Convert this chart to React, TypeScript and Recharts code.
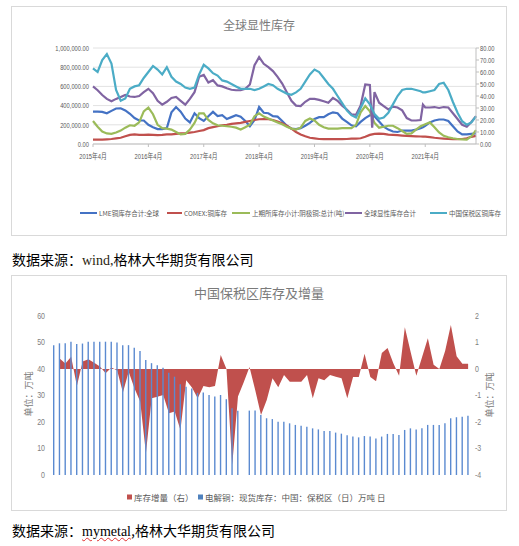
import React from 'react';
import { LineChart, ComposedChart, Line, Bar, Area, XAxis, YAxis, CartesianGrid } from 'recharts';

// ---------------- Top chart: 全球显性库存 ----------------
// x = months since 2015-04
const MONTHS = [
  0, 1, 2, 3, 4, 5, 6, 7, 8, 9,
  10, 11, 12, 13, 14, 15, 16, 17, 18, 19,
  20, 21, 22, 23, 24, 25, 26, 27, 28, 29,
  30, 31, 32, 33, 34, 35, 36, 37, 38, 39,
  40, 41, 42, 43, 44, 45, 46, 47, 48, 49,
  50, 51, 52, 53, 54, 55, 56, 57, 58, 59,
  60, 60.5,
  61, 62, 63, 64, 65, 66, 67, 68, 69, 70, 71,
  71.5,
  72, 73, 74, 75, 76, 77, 78, 79, 80, 81, 82, 83,
];

// thousand tonnes
const LME_KT = [
  337, 337, 335, 320, 345, 370, 372, 350, 315, 270,
  245, 245, 200, 175, 155, 155, 165, 330, 385, 337,
  265, 225, 320, 270, 240, 290, 335, 290, 300, 260,
  280, 300, 285, 240, 185, 250, 385, 325, 320, 290,
  285, 240, 190, 160, 155, 165, 190, 220, 260, 280,
  280, 310, 330, 320, 265, 230, 195, 185, 230, 270,
  300, 305,
  290, 235, 180, 150, 130, 125, 140, 140, 140, 150, 165,
  175,
  190, 225, 245, 255, 255, 240, 185, 130, 100, 100, 105, 110,
];

const COMEX_KT = [
  45, 45, 45, 48, 52, 58, 65, 80, 95, 100,
  95, 95, 98, 95, 92, 95, 100, 100, 105, 110,
  112, 118, 125, 135, 145, 165, 175, 185, 195, 200,
  210, 215, 220, 230, 240, 250, 258, 260, 258, 250,
  235, 215, 190, 160, 125, 100, 80, 65, 58, 52,
  50, 50, 50, 50, 50, 52, 55, 57, 60, 75,
  95, 100,
  105, 108, 105, 98, 95, 92, 88, 85, 83, 80, 78,
  77,
  76, 72, 65, 60, 56, 52, 50, 50, 52, 60, 75, 85,
];

const SHFE_KT = [
  240, 180, 130, 110, 105, 120, 140, 170, 195, 190,
  225, 340, 380, 310, 200, 165, 160, 150, 125, 100,
  105, 150, 220, 320, 320, 250, 215, 195, 190, 185,
  180, 170, 150, 175, 200, 290, 320, 285, 265, 245,
  225, 205, 180, 160, 150, 170, 240, 265, 245, 200,
  175, 160, 160, 160, 165, 165, 165, 200, 330, 395,
  340, 280,
  220, 170, 180, 190, 190, 165, 135, 105, 110, 150, 185,
  195,
  205, 225, 175, 120, 85, 70, 60, 52, 48, 45, 80, 145,
];

const TOTAL_KT = [
  600, 560, 510, 470, 445, 470, 490, 510, 495, 490,
  500, 540, 575, 530, 450, 410, 440, 480, 490, 450,
  410, 470, 540, 700, 720, 640, 665, 610, 600, 580,
  565, 560, 560, 575, 620, 820, 905, 835, 800, 760,
  700, 630, 540, 450, 400, 395, 440, 470, 470, 460,
  445, 430, 480, 450, 400, 360, 310, 305, 400, 620,
  615, 170,
  540, 430, 395, 360, 390, 380, 350, 270, 245, 245, 250,
  410,
  380, 380, 385, 375, 385, 380, 320, 260, 200, 180, 230, 290,
];

// 万吨 (right axis)
const CN_BONDED = [
  63, 60, 70, 75, 67, 45, 36, 38, 46, 48,
  49, 55, 60, 65, 62, 58, 64, 56, 52, 50,
  47, 46, 47, 58, 66, 63, 59, 57, 53, 52,
  50, 48, 46, 46, 46, 45, 46, 48, 50, 49,
  46, 44, 42, 41, 43, 46, 52, 58, 62, 60,
  55, 50, 46, 40, 34, 28, 24, 22, 30, 38,
  33, 29,
  25, 21, 22, 26, 33, 40, 45, 46, 46, 45, 44,
  43,
  43, 44, 45, 50, 51, 45, 35, 26, 19, 16, 18, 23,
];

const X_TICKS = [0, 12, 24, 36, 48, 60, 72];
const X_LABELS = ['2015年4月', '2016年4月', '2017年4月', '2018年4月', '2019年4月', '2020年4月', '2021年4月'];
const LEFT_TICKS = [0, 200000, 400000, 600000, 800000, 1000000];
const RIGHT_TICKS = [0, 10, 20, 30, 40, 50, 60, 70, 80];
const TOP_TITLE = '全球显性库存';
const TOP_LEGEND = ['LME铜库存合计:全球', 'COMEX:铜库存', '上期所库存小计:阴极铜:总计(吨)', '全球显性库存合计', '中国保税区铜库存'];
const TOP_COLORS = ['#4472C4', '#C0504D', '#9BBB59', '#8064A2', '#4BACC6'];

// ---------------- Bottom chart: 中国保税区库存及增量 ----------------
const STOCK = [
  49, 49.7, 49.7, 50.3, 49.4, 49.6, 50.3, 50.3, 50.3, 50.3,
  50.3, 50, 49, 49, 48, 46.8, 43.4, 42.2, 41.4, 40.5,
  38.6, 37.1, 34.2, 33.3, 32.6, 31, 31.1, 30.2, 29.6, 30.2,
  28.6, 25.2, 24.2, null, 24.3, 24.3, 22.6, 21.4, 21.1, 20.1,
  20.1, 19.5, 18.9, 18.6, 18.2, 17.6, 17.2, 16.6, 16.6, 16.0,
  15.6, 15.0, 14.5, 14.2, 14.7, 14.5, 13.8, 14.5, 15.5, 15.5,
  15.1, 17.0, 17.6, 17.2, 17.6, 18.9, 18.9, 18.9, 19.5, 21.4,
  21.8, 22.0, 22.4,
];
const DELTA = [
  null, 0.40, 0.21, 0.46, -0.64, 0.28, 0.37, 0.24, 0.09, -0.16,
  0.06, -0.06, -0.89, -0.10, -0.73, -1.23, -3.18, -1.10, -1.05, -0.98,
  -1.67, -1.60, -2.30, -0.42, -0.70, -1.10, -0.64, -0.69, -0.64, 0.53,
  0.0, -3.62, -1.04, -0.50, 0.08, -0.80, -1.74, -1.17, -0.35, -0.69,
  -0.23, -0.48, -0.48, -0.48, -0.23, -1.10, -0.35, -0.42, -0.23, -0.29,
  -0.35, -1.10, -0.30, -0.30, 0.58, -0.30, -0.46, 0.60, 0.79, 0.22,
  -0.25, 1.58, 0.65, -0.25, 0.45, 1.16, 0.16, 0.0, 0.68, 1.66,
  0.48, 0.20, 0.20,
];
const B_LEFT_TICKS = [0, 10, 20, 30, 40, 50, 60];
const B_RIGHT_TICKS = [-4, -3, -2, -1, 0, 1, 2];
const BOTTOM_TITLE = '中国保税区库存及增量';
const BOTTOM_LEGEND = ['库存增量（右）', '电解铜：现货库存：中国：保税区（日）万吨 日'];
const UNIT = '单位：万吨';
const CAPTION_1 = ['数据来源：', 'wind,', '格林大华期货有限公司'];
const CAPTION_2 = ['数据来源：', 'mymetal', ',格林大华期货有限公司'];

const CJK = "'Noto Sans CJK SC', 'Noto Sans', sans-serif";
const TICK_FONT = "'Liberation Sans', Arial, 'Noto Sans CJK SC', sans-serif";
const SERIF = "'Liberation Serif', 'Times New Roman', serif";

const topData = MONTHS.map((m, i) => ({
  m,
  lme: LME_KT[i] * 1000,
  comex: COMEX_KT[i] * 1000,
  shfe: SHFE_KT[i] * 1000,
  total: TOTAL_KT[i] * 1000,
  bonded: CN_BONDED[i],
}));

const bottomData = STOCK.map((v, i) => ({ i, stock: v, delta: DELTA[i] }));

const makeTick = (
  fmt: (v: number) => string,
  opts: { size: number; sx: number; dx?: number; dy?: number; fill?: string }
) => (p: any) => {
  const { x, y, payload, textAnchor } = p;
  return (
    <text
      transform={`translate(${x + (opts.dx || 0)},${y + (opts.dy || 0)}) scale(${opts.sx},1)`}
      textAnchor={textAnchor}
      dominantBaseline="central"
      fontSize={opts.size}
      fill={opts.fill || '#595959'}
      fontFamily={TICK_FONT}
    >
      {fmt(payload.value)}
    </text>
  );
};

const fmtLeft = (v: number) => v.toLocaleString('en-US', { minimumFractionDigits: 2, maximumFractionDigits: 2 });
const fmtRight = (v: number) => v.toFixed(2);
const fmtX = (v: number) => X_LABELS[X_TICKS.indexOf(v)] ?? '';

const TOP_LEGEND_POS = [
  [80, 97, 99],
  [167, 182, 184],
  [232, 250, 252],
  [345, 362, 364],
  [430, 447, 449],
];

export default function App() {
  return (
    <div style={{ position: 'absolute', left: 0, top: 0, width: 519, height: 546, background: '#fff', overflow: 'hidden' }}>
      {/* boxes */}
      <div style={{ position: 'absolute', left: 11, top: 6, width: 496, height: 230, border: '1px solid #d9d9d9', boxSizing: 'border-box' }} />
      <div style={{ position: 'absolute', left: 11, top: 275, width: 496, height: 236, border: '1px solid #d9d9d9', boxSizing: 'border-box' }} />

      {/* top chart */}
      <div style={{ position: 'absolute', left: 11, top: 6 }}>
        <LineChart width={496} height={230} data={topData} margin={{ top: 42, right: 0, bottom: 72, left: 0 }}>
          <CartesianGrid yAxisId="left" vertical={false} stroke="#e2e2e2" />
          <XAxis
            dataKey="m"
            type="number"
            domain={[0, 83]}
            ticks={X_TICKS}
            interval={0}
            height={20}
            stroke="#bfbfbf"
            tickSize={3}
            tickMargin={2}
            tick={makeTick(fmtX, { size: 8, sx: 0.72, dy: 7 })}
          />
          <YAxis
            yAxisId="left"
            orientation="left"
            width={82}
            domain={[0, 1000000]}
            ticks={LEFT_TICKS}
            interval={0}
            axisLine={false}
            tickLine={false}
            tickSize={0}
            tickMargin={4}
            tick={makeTick(fmtLeft, { size: 8, sx: 0.72 })}
          />
          <YAxis
            yAxisId="right"
            orientation="right"
            width={31}
            domain={[0, 80]}
            ticks={RIGHT_TICKS}
            interval={0}
            stroke="#bfbfbf"
            tickSize={3}
            tickMargin={1}
            tick={makeTick(fmtRight, { size: 8, sx: 0.72 })}
          />
          <Line yAxisId="left" dataKey="lme" stroke={TOP_COLORS[0]} strokeWidth={2.2} dot={false} isAnimationActive={false} type="linear" />
          <Line yAxisId="left" dataKey="comex" stroke={TOP_COLORS[1]} strokeWidth={2.2} dot={false} isAnimationActive={false} type="linear" />
          <Line yAxisId="left" dataKey="shfe" stroke={TOP_COLORS[2]} strokeWidth={2.2} dot={false} isAnimationActive={false} type="linear" />
          <Line yAxisId="left" dataKey="total" stroke={TOP_COLORS[3]} strokeWidth={2.2} dot={false} isAnimationActive={false} type="linear" />
          <Line yAxisId="right" dataKey="bonded" stroke={TOP_COLORS[4]} strokeWidth={2.2} dot={false} isAnimationActive={false} type="linear" />
        </LineChart>
      </div>

      {/* bottom chart */}
      <div style={{ position: 'absolute', left: 11, top: 275 }}>
        <ComposedChart width={496} height={236} data={bottomData} margin={{ top: 41, right: 0, bottom: 36, left: 0 }}>
          <XAxis dataKey="i" hide />
          <YAxis
            yAxisId="left"
            orientation="left"
            width={40}
            domain={[0, 60]}
            ticks={B_LEFT_TICKS}
            interval={0}
            axisLine={false}
            tickLine={false}
            tickSize={0}
            tickMargin={6}
            tick={makeTick((v) => String(v), { size: 9, sx: 0.78, fill: '#808080' })}
          />
          <YAxis
            yAxisId="right"
            orientation="right"
            width={36}
            domain={[-4, 2]}
            ticks={B_RIGHT_TICKS}
            interval={0}
            axisLine={false}
            tickLine={false}
            tickSize={0}
            tickMargin={4}
            tick={makeTick((v) => String(v), { size: 9, sx: 0.78, fill: '#808080' })}
          />
          <Area yAxisId="right" dataKey="delta" type="linear" baseValue={0} fill="#C0504D" fillOpacity={1} stroke="none" isAnimationActive={false} />
          <Bar yAxisId="left" dataKey="stock" fill="#5B8AD0" barSize={1.4} isAnimationActive={false} />
        </ComposedChart>
      </div>

      {/* texts overlay */}
      <svg width={519} height={546} style={{ position: 'absolute', left: 0, top: 0, pointerEvents: 'none' }}>
        <text x={259} y={24} textAnchor="middle" dominantBaseline="central" fontSize={12} fill="#7a7a7a" fontFamily={CJK}>{TOP_TITLE}</text>
        {TOP_LEGEND.map((label, i) => (
          <g key={label}>
            <line x1={TOP_LEGEND_POS[i][0]} x2={TOP_LEGEND_POS[i][1]} y1={213} y2={213} stroke={TOP_COLORS[i]} strokeWidth={2} />
            <text x={TOP_LEGEND_POS[i][2]} y={213} dominantBaseline="central" fontSize={6.5} fill="#595959" fontFamily={CJK}>{label}</text>
          </g>
        ))}
        <text x={259} y={292} textAnchor="middle" dominantBaseline="central" fontSize={13} fill="#7a7a7a" fontFamily={CJK}>{BOTTOM_TITLE}</text>
        <text transform="translate(28,394) rotate(-90)" textAnchor="middle" dominantBaseline="central" fontSize={9} fill="#7a7a7a" fontFamily={CJK}>{UNIT}</text>
        <text transform="translate(489,395) rotate(-90)" textAnchor="middle" dominantBaseline="central" fontSize={9} fill="#7a7a7a" fontFamily={CJK}>{UNIT}</text>
        <rect x={127} y={494.5} width={5} height={5} fill="#C0504D" />
        <text x={134} y={497} dominantBaseline="central" fontSize={8.5} fill="#595959" fontFamily={CJK}>{BOTTOM_LEGEND[0]}</text>
        <rect x={198} y={494.5} width={5} height={5} fill="#4F81BD" />
        <text x={205} y={497} dominantBaseline="central" fontSize={8.5} fill="#595959" fontFamily={CJK}>{BOTTOM_LEGEND[1]}</text>
      </svg>

      {/* captions */}
      <div style={{ position: 'absolute', left: 12, top: 250, fontSize: 14, lineHeight: '18px', color: '#000', whiteSpace: 'nowrap', fontFamily: CJK }}>
        <span>{CAPTION_1[0]}</span>
        <span style={{ fontFamily: SERIF, color: '#2a1e10' }}>{CAPTION_1[1]}</span>
        <span>{CAPTION_1[2]}</span>
      </div>
      <div style={{ position: 'absolute', left: 12, top: 521, fontSize: 14, lineHeight: '18px', color: '#000', whiteSpace: 'nowrap', fontFamily: CJK }}>
        <span>{CAPTION_2[0]}</span>
        <span style={{ fontFamily: SERIF, textDecoration: 'underline wavy #e03030', textDecorationThickness: '1px' }}>{CAPTION_2[1]}</span>
        <span>{CAPTION_2[2]}</span>
      </div>
    </div>
  );
}
